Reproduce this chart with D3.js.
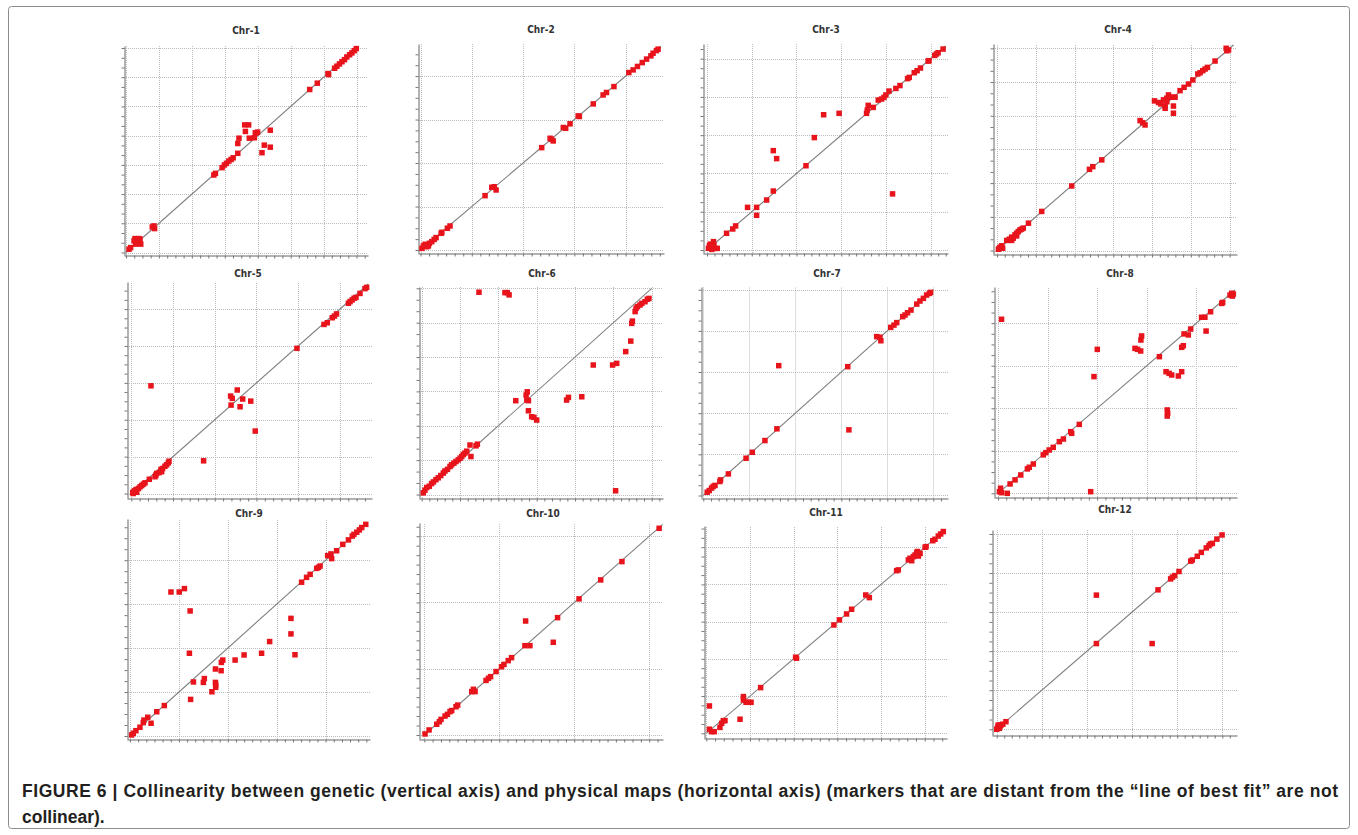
<!DOCTYPE html>
<html>
<head>
<meta charset="utf-8">
<script src="https://cdn.jsdelivr.net/npm/d3@7"></script>
<style>
  body { margin: 0; background: #fff; }
</style>
</head>
<body>
<svg id="chart" width="1358" height="835"></svg>
<script>
// Chromosome names, one panel each
var chrNames = ["Chr-1", "Chr-2", "Chr-3", "Chr-4", "Chr-5", "Chr-6",
                "Chr-7", "Chr-8", "Chr-9", "Chr-10", "Chr-11", "Chr-12"];

// Markers: [physical position, genetic position], both as % of chromosome length
var chr1 = [[1.3,1.6],[2,2.4],[3.5,5.7],[4.2,4.1],[4.9,5.2],[6.1,6.5],[6.4,4.1],[5.6,6.8],[3.9,6.8],
  [11.4,12.5],[12.4,11.7],[12.1,13],[38.1,37.9],[38.8,38.7],
  [41.7,41.5],[42.7,42.8],[43.6,43.6],[44.6,44.7],[45.6,45.5],[46.5,46.3],
  [48.5,48.5],[48.5,53.3],[49,55.9],[51.5,62.4],[53.2,62.4],[51.8,59.2],[53.5,55.9],
  [55.7,56.1],[56.6,58.5],[56.1,58.5],[57.1,58.9],[59,48.8],[60,52.5],[62.6,59.8],[62.6,51.5],
  [79.7,79.7],[83,82.8],[87.6,87.5],[87.9,87],
  [90.5,90.1],[91.5,91.1],[92.6,92.2],[93.7,93.3],[94.8,94.3],[95.8,95.6],[97,96.7],[98,97.6],[99,98.7],[99.9,99.7]];

var chr2 = [[0.6,0.8],[1.2,2],[1.9,2.8],[2.6,1.6],[3.3,2],[3.7,3.3],[4.7,4.1],[5.7,5.2],[6.5,6.1],
  [8.6,8.2],[8.9,8.7],[11.2,10.7],[12.3,11.8],
  [26.9,26.7],[29.7,30.8],[30.7,31.1],[31.5,29.5],
  [50.5,50.3],[54,54.9],[54.6,54.4],[55.3,53.6],
  [59.5,60.2],[60.5,59.8],[62.3,62],[65.7,65.9],[66.2,65.6],
  [72,71.8],[76.1,76.2],[77.5,77.4],[80.6,80.3],
  [86.8,87.2],[88.6,88.5],[90.4,90.2],[92.4,92.1],[94.2,93.8],[96,95.4],[96.9,96.7],[98.3,98],[99,98.7]];

var chr3 = [[0.6,0.8],[1,2],[1.5,2.9],[2.4,1.6],[2.7,4.1],[3.4,0.8],[4.3,0.8],[2,0.3],[1.3,2.5],[2.9,2.5],
  [8.2,8.2],[10.8,10.3],[12,11.8],
  [17,20.9],[20.8,20.9],[20.8,17],[25,24.5],[27.8,28.9],
  [27.8,48.7],[29.2,44.8],
  [41.5,41.3],[45,55.1],[48.9,66.3],[55.4,67],
  [66.9,67],[67.2,68.6],[67.6,70.9],[69.7,69.9],
  [71.8,73.5],[73.2,74],[74.2,74.8],[75,76],[76.3,77.9],[79.2,79.2],[80.9,80.6],
  [77.8,27.5],
  [84.1,84],[84.8,84.6],[86.9,86.9],[88.1,87.9],[89.5,89.2],[92.7,92.6],[93.1,92.8],
  [95.5,95.4],[96.2,96.1],[96.9,96.7],[99,98.5]];

var chr4 = [[0.6,0.6],[1.3,1.6],[2,2.3],[1,1.1],[2.4,1.1],[4.1,4.9],[5.2,5.5],[6.2,6.5],[7.6,7.6],
  [8.3,8.4],[9,9.2],[9.7,10],[10.4,10.4],[11.1,10.9],[6.2,4.9],[8.3,7.1],[6.9,6],[13.3,13.3],
  [18.9,19],[31.6,31.4],[39.1,39.5],[40.5,40.8],[44.3,44.1],
  [60.5,63.2],[61.6,62.2],[62.6,61.1],
  [66.6,72.8],[68.3,72],[69.3,71.3],[70.4,73.3],[71.1,70.3],[71.8,74.1],[72.5,75.7],[73.2,74.6],
  [74.6,74.6],[75.3,74.6],[71.1,69.2],[74.6,70.3],[74.6,66.8],[71.8,72.4],
  [77.4,77.8],[79.1,79.4],[81,81],[82.8,83],
  [84.9,85.9],[85.9,86.5],[87,87.5],[88,88.3],[89,89.1],[92.2,92.2],
  [96.9,98.4],[97.9,97.6],[97.2,97.2]];

var chr5 = [[0.6,0.5],[1.3,1.3],[2,1.9],[0.8,0],[2.3,0.6],[3,2.4],[3.7,3.2],[4.4,3.8],[5.1,4.5],[5.8,5.1],
  [7.6,6.8],[10,8],[10.7,9.6],[11.8,10],[12.5,11.5],[13.2,11.9],[14.2,13],[14.9,13.7],[15.6,14.6],
  [15.9,15.4],[10.4,8.8],[12.8,10.4],
  [8.3,51.4],[30.5,15.6],
  [41.9,46.5],[42.6,45.4],[42.1,42.2],[44.7,49.4],[47,45.1],[45.9,41.4],[50.4,44.1],
  [52.3,29.8],[69.9,69.3],
  [81.3,80.7],[82.7,81.5],[84.8,83.9],[85.7,84.7],[86.6,85.7],
  [91.6,90.8],[92.3,91.6],[93.2,92.4],[94,93.2],[94.8,93.6],[96.5,95.5],[98.6,97.8],[99.3,98.4]];

var chr6 = [[0.7,0.8],[1.4,2.1],[2.2,3.4],[3.3,4],[4.3,5.3],[5.1,6.1],[6.2,7.2],[7.2,8.1],[8.3,9.2],
  [9.4,10.4],[10.1,11.4],[11.2,12.2],[12.3,13.6],[13,14.4],[14,15.2],[14.9,16],[15.9,16.8],
  [16.7,17.6],[17.4,18.4],[18.1,19.4],[18.8,20.1],[19.6,21],[21.4,18.4],[21,24],[23.6,23.6],[24.2,24.4],
  [24.9,98.1],[36.2,97.9],[37.2,97.9],[38,96.8],
  [40.9,45.5],[45.4,48.2],[45.9,49.8],[45.7,45.8],[46.4,45.5],
  [46.4,40.6],[47.8,37.7],[48.8,37.4],[50,36.1],
  [63,45.8],[63.8,47.1],[69.6,47.4],
  [74.6,62.8],[83,62.8],[84.8,63.6],[88.7,69.3],[90.9,74.4],[91.3,83],[91.6,84.1],
  [92.8,88.7],[93.2,90.3],[93.8,91.1],[94.9,91.9],[95.7,92.7],[97.1,93.5],[98.1,94.7],[98.8,95.1],
  [84.3,1.8]];

var chr7 = [[1.7,1.6],[2.6,2.4],[3.6,3.6],[4.3,4.4],[5.1,4.9],[7.2,6.8],[7.5,7.6],[10.9,10.5],
  [18.6,18.1],[21.3,21],[26.8,26.7],[32,32.4],
  [32.8,63.1],[62.8,62.6],[63.3,31.9],
  [75.4,77.2],[76.8,76.9],[77.2,75.2],
  [81.5,81.7],[82.9,82.8],[84.1,84],[86.7,86.9],[87.7,87.7],[88.8,88.8],[90.3,90.1],[92.8,93],
  [94.2,94.5],[95.7,95.8],[97.1,97.4],[98.3,98.2],[98.8,98.7]];

var chr8 = [[0.6,0.8],[1.1,2.5],[1.5,0.3],[3.9,0],[5.1,4.6],[7.2,6.6],[9.6,9],[12.4,12],[13.2,12.8],
  [14.9,14.4],[19.1,18.9],[20.2,20],[21.6,21.3],[23.3,22.6],[25.9,25.4],[27.6,26.7],[30.7,30.3],
  [31.1,29.5],[34.3,33.9],
  [1.5,85.6],[39.1,0.8],[40.5,57.4],[41.9,70.8],
  [57.8,71.3],[58.9,70.8],[60.2,70],[60.3,75.4],[60.6,77.4],
  [68.1,67.2],
  [70.9,59.8],[72.2,59],[73.3,58.2],[76.1,57.7],[77.5,59.8],
  [71.4,41],[71.6,39.3],[71.4,38],
  [77.5,71.8],[78.2,72.6],[78.5,78.4],[80.3,77.9],[81.3,80.8],
  [85.9,86.6],[87.3,86.6],[89.7,89.3],[87.8,79.8],
  [94.4,93.4],[94.8,93.9],[97.9,97.5],[98.6,98.4],[99.3,98],[98.9,97]];

var chr9 = [[0.7,0.5],[1.4,1.3],[2.5,2.5],[4.2,4.1],[5.6,6.3],[5.9,7.5],[7.5,8.8],[8.9,6],[11.3,11.4],[14.5,14.3],
  [17.3,67.7],[20.8,67.7],[23,69.3],[25.4,58.8],[25.1,38.9],[25.6,17.2],[26.8,25.4],
  [31,25.2],[31.4,27],[34.6,20.8],[36.1,31.5],[36.1,25.2],[36.2,24],[36.2,22.9],
  [38.5,30.7],[38.6,34.6],[39.2,35.7],[44.4,35.7],[48.2,38.1],[55.6,38.9],[59,44.4],
  [68,55.3],[68,48],[69.7,38.2],
  [72.5,72.3],[74.6,74.6],[76.1,76],[78.9,78.8],[79.6,79.3],[80.3,79.9],
  [83.5,84.8],[84.9,85.6],[85.2,83.4],[87.3,87.1],
  [89.9,90.1],[92.3,92.2],[93.9,94],[94.6,94.8],[95.8,95.8],[96.9,96.9],[97.9,98],[99.6,99.5]];

var chr10 = [[0.3,0.5],[2,2.4],[5.2,5.1],[6.3,6.3],[7,7.4],[8.7,9],[9.7,9.8],[10.8,11.1],[11.5,11.6],
  [13.3,13.4],[14,14.2],[19.9,20.6],[20.6,21.7],[21.3,20.6],[25.9,25.9],[26.9,26.9],[27.8,27.7],
  [30.1,30.1],[32.4,32.4],[33.4,33.5],[35.2,35.3],[36.6,36.7],
  [42.5,54.1],[42.2,42.4],[44.3,42.4],[54.1,44],[55.9,55.7],[64.9,64.6],[74,73.6],[82.9,82.3],[98.5,98.1]];

var chr11 = [[1.3,2],[2.2,0.8],[3.3,0.8],[5.7,2.9],[6.4,4.9],[7.1,6.2],[7.8,6.2],[1.3,13.4],[14.1,6.9],
  [15.5,16.3],[15.5,18],[16.6,15.2],[17.6,15.2],[18.7,15.2],[22.7,22.4],
  [37.3,37.3],[37.7,36.8],
  [53.3,53.1],[55.6,55.6],[58.6,58.5],[60.7,60.8],[66.6,67.8],[68.1,66.5],
  [79.5,79.7],[80.2,80.1],
  [84.4,85],[85.1,85.8],[85.8,84.6],[86.5,86.6],[87.2,87.4],[87.9,88.6],[88.2,89.1],[88.6,86.9],
  [89.3,88.2],[91.4,91.2],[91.8,91.5],
  [94.6,94.4],[95.5,95.1],[96.9,96.7],[97.9,97.7],[99,98.9]];

var chr12 = [[0,0],[0.4,0.9],[0.7,1.4],[1.2,0.5],[1.5,1.7],[1.9,2.2],[2.7,2.6],[0.7,2.2],[4.1,3.9],
  [44.2,68.7],[44.2,43.9],[68.9,43.9],[71.5,71.4],
  [77.1,77],[77.9,77.9],[78.9,78.7],[80.8,80.8],
  [86,86.1],[86.7,86.7],[88.9,88.6],[90.7,90.6],[92.9,92.9],[94.1,94],[94.7,94.9],[95.6,95.2],
  [97.6,97.4],[99.9,99.5]];

var markerSets = [chr1, chr2, chr3, chr4, chr5, chr6, chr7, chr8, chr9, chr10, chr11, chr12];

// Grid divisions along each chromosome (gridlines every 1/n of the length)
var gridDivs = [7, 4.68, 5.33, 6.1, 5.68, 6, 5, 4.78, 4.84, 3.18, 5.48, 5];

var captionLines = [
  "FIGURE 6 | Collinearity between genetic (vertical axis) and physical maps (horizontal axis) (markers that are distant from the \u201cline of best fit\u201d are not",
  "collinear)."
];

// Panel placement: plot box, and where 0% / 100% land on each axis
var layout = [
  {left: 124, right: 368, top: 46, bottom: 255, x0: 126, x1: 356.5, y0: 252.5, y1: 48, tx: 246, ty: 34},
  {left: 418, right: 664, top: 44, bottom: 253, x0: 420.5, x1: 660.5, y0: 250, y1: 46.5, tx: 541, ty: 33},
  {left: 703, right: 948, top: 44, bottom: 253, x0: 707, x1: 945.5, y0: 250, y1: 46, tx: 826, ty: 33},
  {left: 993, right: 1237, top: 44, bottom: 254, x0: 997, x1: 1233.5, y0: 250.5, y1: 45, tx: 1118, ty: 33},
  {left: 127, right: 372, top: 282, bottom: 498, x0: 131.3, x1: 368.3, y0: 493.5, y1: 284, tx: 248, ty: 277},
  {left: 419, right: 663, top: 287, bottom: 498, x0: 421.7, x1: 651.7, y0: 494.5, y1: 288.3, tx: 542, ty: 277},
  {left: 701, right: 948, top: 287, bottom: 497.5, x0: 703.3, x1: 933.3, y0: 495.5, y1: 289.7, tx: 827, ty: 277},
  {left: 994, right: 1237, top: 287, bottom: 497, x0: 998, x1: 1235, y0: 493.3, y1: 290, tx: 1120, ty: 277},
  {left: 127, right: 370, top: 519, bottom: 739, x0: 130, x1: 366.7, y0: 736, y1: 523.3, tx: 249, ty: 517},
  {left: 419, right: 663, top: 523, bottom: 739, x0: 424.3, x1: 662.7, y0: 735, y1: 524.3, tx: 543, ty: 517},
  {left: 704, right: 947, top: 526, bottom: 738, x0: 706.3, x1: 945.7, y0: 733.3, y1: 529.3, tx: 826, ty: 516},
  {left: 992, right: 1237, top: 530, bottom: 735, x0: 996.7, x1: 1222.3, y0: 729.3, y1: 534, tx: 1115, ty: 513}
];

var svg = d3.select("#chart");

// Outer frame of the figure
svg.append("rect")
  .attr("x", 8.5).attr("y", 6.5)
  .attr("width", 1341).attr("height", 822)
  .attr("rx", 3)
  .attr("fill", "none")
  .attr("stroke", "#8c8c8c");

layout.forEach(function(L, i) {
  var g = svg.append("g");

  // scales: 0..100 % mapped onto the diagonal, then stretched to the plot box
  var x = d3.scaleLinear().domain([0, 100]).range([L.x0, L.x1]);
  x.domain([x.invert(L.left), x.invert(L.right)]).range([L.left, L.right]);
  var y = d3.scaleLinear().domain([0, 100]).range([L.y0, L.y1]);
  y.domain([y.invert(L.bottom), y.invert(L.top)]).range([L.bottom, L.top]);

  var n = gridDivs[i];
  var step = 100 / n;
  var grid = d3.range(0, Math.floor(n + 0.05) + 1).map(function(k) { return k * step; });

  // gridlines
  g.selectAll(".vgrid").data(grid).join("line")
    .attr("class", "vgrid")
    .attr("x1", function(d) { return Math.round(x(d)) + 0.5; })
    .attr("x2", function(d) { return Math.round(x(d)) + 0.5; })
    .attr("y1", L.bottom).attr("y2", L.top)
    .attr("stroke", "#bdbdbd")
    .attr("stroke-dasharray", "1,1");

  g.selectAll(".hgrid").data(grid).join("line")
    .attr("class", "hgrid")
    .attr("y1", function(d) { return Math.round(y(d)) + 0.5; })
    .attr("y2", function(d) { return Math.round(y(d)) + 0.5; })
    .attr("x1", L.left).attr("x2", L.right)
    .attr("stroke", "#bdbdbd")
    .attr("stroke-dasharray", "1,1");

  // minor ticks on both axes
  var kx = Math.max(1, Math.round((x(step) - x(0)) / 8));
  var ky = Math.max(1, Math.round((y(0) - y(step)) / 10));
  var minorX = d3.range(0, x.domain()[1], step / kx);
  var minorY = d3.range(0, y.domain()[1], step / ky);

  var xAxis = g.append("g")
    .attr("transform", "translate(0," + Math.round(L.bottom) + ".5)")
    .call(d3.axisBottom(x).tickValues(minorX).tickSize(3).tickSizeOuter(0).tickFormat(""));

  var yAxis = g.append("g")
    .attr("transform", "translate(" + Math.round(L.left) + ".5,0)")
    .call(d3.axisLeft(y).tickValues(minorY).tickSize(3).tickSizeOuter(0).tickFormat(""));

  [xAxis, yAxis].forEach(function(ax) {
    ax.select(".domain").attr("stroke", "#666");
    ax.selectAll(".tick line").attr("stroke", "#777");
  });

  // line of best fit
  g.append("line")
    .attr("x1", x(0)).attr("y1", y(0))
    .attr("x2", x(100)).attr("y2", y(100))
    .attr("stroke", "#808080")
    .attr("stroke-width", 1.1);

  // markers
  g.selectAll(".marker").data(markerSets[i]).join("rect")
    .attr("class", "marker")
    .attr("x", function(d) { return x(d[0]) - 2.75; })
    .attr("y", function(d) { return y(d[1]) - 2.75; })
    .attr("width", 5.5).attr("height", 5.5)
    .attr("fill", "#e8141c");

  // panel title
  g.append("text")
    .attr("x", L.tx).attr("y", L.ty)
    .attr("text-anchor", "middle")
    .attr("font-family", "'DejaVu Sans Condensed', 'DejaVu Sans', sans-serif")
    .attr("font-weight", "bold")
    .attr("font-size", 10)
    .attr("fill", "#333")
    .text(chrNames[i]);
});

// caption
svg.selectAll(".caption").data(captionLines).join("text")
  .attr("class", "caption")
  .attr("x", 22)
  .attr("y", function(d, i) { return 797 + i * 26; })
  .attr("font-family", "'Liberation Sans', Arial, sans-serif")
  .attr("font-weight", "bold")
  .attr("font-size", 17.5)
  .attr("fill", "#231f20")
  .text(function(d) { return d; })
  .each(function(d, i) {
    if (i === 0) d3.select(this).attr("textLength", 1316).attr("lengthAdjust", "spacing");
  });
</script>
</body>
</html>
